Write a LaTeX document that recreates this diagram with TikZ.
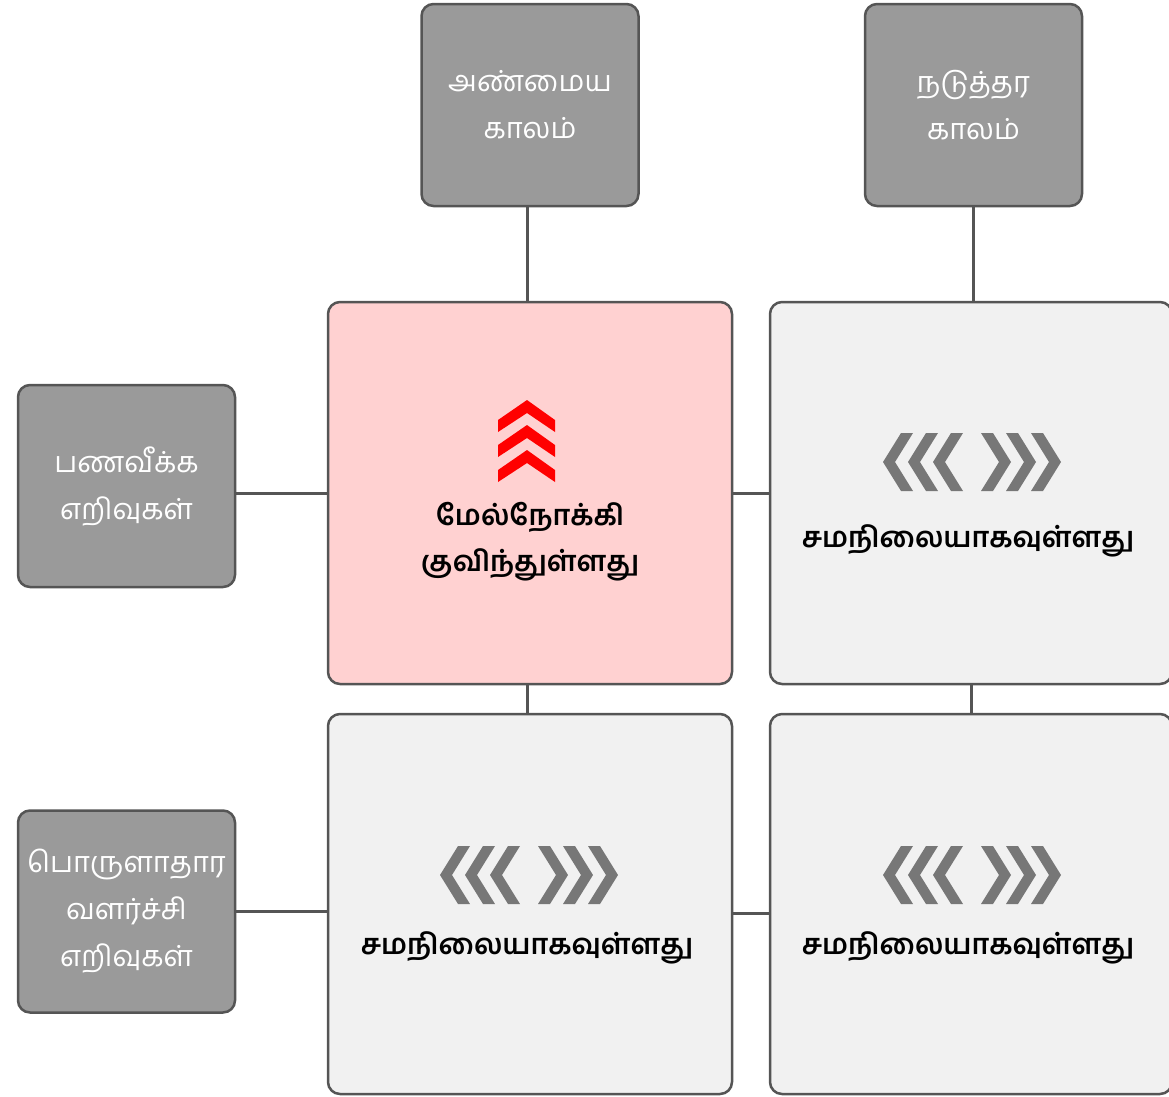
\documentclass[tikz,border=0pt]{standalone}
\usepackage{fontspec}
\newfontfamily\tamil[Script=Tamil]{Hind Madurai}
\definecolor{edge}{HTML}{555555}
\definecolor{darkbox}{HTML}{9A9A9A}
\definecolor{pinkbox}{HTML}{FFD1D1}
\definecolor{lightbox}{HTML}{F1F1F1}
\definecolor{chevgrey}{HTML}{777777}
\definecolor{chevred}{HTML}{FF0000}
\tikzset{
  base/.style={draw=edge, line width=2.5pt, rounded corners=12pt, inner sep=0pt, align=center},
  labelbox/.style={base, fill=darkbox, text=white, minimum width=217pt, minimum height=202pt,
     font=\tamil\fontsize{29}{47}\selectfont},
  bigpink/.style={base, fill=pinkbox, minimum width=404pt, minimum height=382pt},
  biggrey/.style={base, fill=lightbox, minimum width=402pt, minimum height=380pt},
  conn/.style={draw=edge, line width=3pt},
  boldtxt/.style={font=\tamil\bfseries\fontsize{28.5}{46}\selectfont, align=center, inner sep=0pt},
}
\newcommand{\greychev}[2]{% center x, center y
  \foreach \o in {89,64,39}{
    \fill[chevgrey] (#1-\o,#2) -- (#1-\o+18,#2-29) -- (#1-\o+30,#2-29) -- (#1-\o+12,#2)
       -- (#1-\o+30,#2+29) -- (#1-\o+18,#2+29) -- cycle;
    \fill[chevgrey] (#1+\o,#2) -- (#1+\o-18,#2-29) -- (#1+\o-30,#2-29) -- (#1+\o-12,#2)
       -- (#1+\o-30,#2+29) -- (#1+\o-18,#2+29) -- cycle;
  }}
\begin{document}
\begin{tikzpicture}[x=1pt,y=-1pt]
\useasboundingbox (0,0) rectangle (1169,1096);
% header boxes
\node[labelbox] (t1) at (530,105) {அண்மைய\\காலம்};
\node[labelbox] (t2) at (973.5,105) {நடுத்தர\\காலம்};
\node[labelbox] (l1) at (126.5,486) {பணவீக்க\\எறிவுகள்};
\node[labelbox] (l2) at (126.5,911.5) {பொருளாதார\\வளர்ச்சி\\எறிவுகள்};
% grid
\node[bigpink] (A) at (530,493) {};
\node[biggrey, minimum height=382pt] (B) at (971,493) {};
\node[biggrey, minimum width=404pt] (C) at (530,904) {};
\node[biggrey] (D) at (971,904) {};
% connectors
\draw[conn] ([xshift=-3pt]t1.south) -- ([xshift=-3pt]A.north);
\draw[conn] (t2.south) -- (t2.south |- B.north);
\draw[conn] (A.west -| l1.east) -- (A.west);
\draw[conn] (l2.east) -- (l2.east -| C.west);
\draw[conn] (A.east) -- (B.west);
\draw[conn] ([xshift=-3pt]A.south) -- ([xshift=-3pt]C.north);
\draw[conn] (B.south) -- (D.north);
\draw[conn] ([yshift=-9pt]C.east) -- ([yshift=-9pt]D.west);
% red chevrons
\foreach \d in {0,25,50}{
  \fill[chevred] (498,420+\d) -- (527,400+\d) -- (555,420+\d) -- (555,432+\d) -- (527,413+\d) -- (498,432+\d) -- cycle;
}
\node[boldtxt] (ta) at (530,542) {மேல்நோக்கி\\குவிந்துள்ளது};
\greychev{972}{462}
\node[boldtxt] (tb) at (968,541) {சமநிலையாகவுள்ளது};
\greychev{529}{875}
\node[boldtxt] (tc) at (527,948) {சமநிலையாகவுள்ளது};
\greychev{972}{875}
\node[boldtxt] (td) at (968,948) {சமநிலையாகவுள்ளது};
\end{tikzpicture}
\end{document}
